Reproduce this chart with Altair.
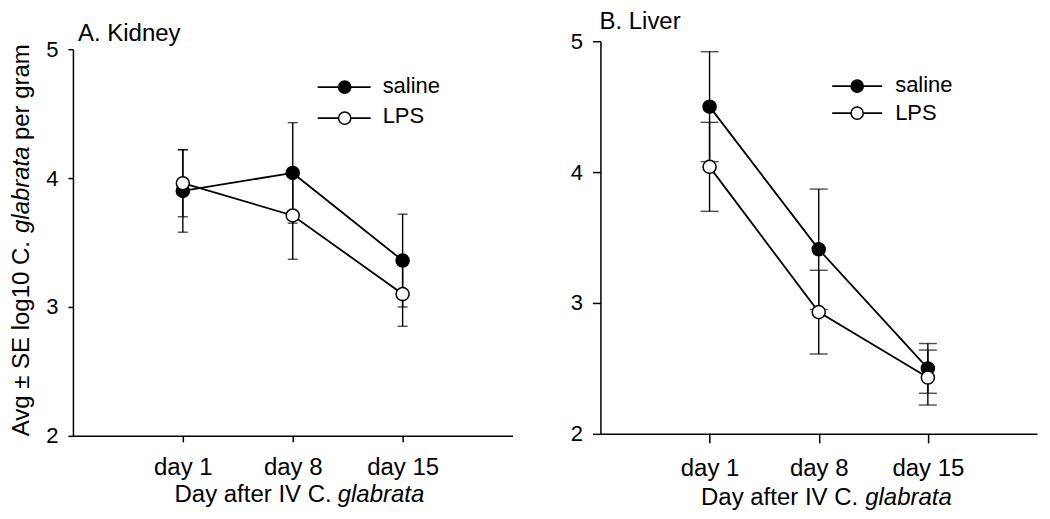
import altair as alt
import pandas as pd

# ---------------- data ----------------
days = ["day 1", "day 8", "day 15"]
groups = ["saline", "LPS"]

kidney_saline_mean = [3.90, 4.04, 3.36]
kidney_saline_se = [0.32, 0.39, 0.36]
kidney_lps_mean = [3.96, 3.71, 3.10]
kidney_lps_se = [0.26, 0.34, 0.25]

liver_saline_mean = [4.50, 3.41, 2.50]
liver_saline_se = [0.42, 0.46, 0.19]
liver_lps_mean = [4.04, 2.93, 2.43]
liver_lps_se = [0.34, 0.32, 0.21]

y_ticks = [2, 3, 4, 5]
panel_titles = ["A. Kidney", "B. Liver"]
x_title_parts = ["Day after IV C.", "glabrata"]
y_title_parts = ["Avg \u00b1 SE log10 C.", "glabrata", "per gram"]

FONT = "Liberation Sans"


def make_df(sm, ss, lm, ls):
    rows = []
    for g, m, s in ((groups[0], sm, ss), (groups[1], lm, ls)):
        for i, (d, mv, sv) in enumerate(zip(days, m, s)):
            rows.append({"day": d, "idx": i, "group": g, "mean": mv,
                         "lo": mv - sv, "hi": mv + sv})
    return pd.DataFrame(rows)


def text_layer(txt, x, y, size=24, align="left", angle=0, style="normal"):
    kw = dict(align=align, baseline="alphabetic", fontSize=size, font=FONT,
              color="black", fontStyle=style)
    if angle:
        kw["angle"] = angle
    return alt.Chart(pd.DataFrame({"t": [txt]})).mark_text(**kw).encode(
        x=alt.value(x), y=alt.value(y), text="t:N")


def panel(df, title, W, H, yrange, xtick, ytick, cap, tpos, leg, xt, ytitle=False):
    x = alt.X("day:O", sort=days,
              scale=alt.Scale(type="point", padding=1, domain=days),
              axis=alt.Axis(title=None, labelAngle=0, tickSize=xtick,
                            labelPadding=14, labelFontSize=24))

    def yenc(field):
        return alt.Y(field + ":Q",
                     scale=alt.Scale(domain=[2, 5], range=yrange, nice=False, zero=False),
                     axis=alt.Axis(title=None, values=y_ticks, format="d",
                                   tickSize=ytick, labelPadding=10, labelFontSize=22))

    base = alt.Chart(df)
    bars = base.mark_rule(color="black", strokeWidth=1.4).encode(
        x=x, y=yenc("lo"), y2="hi:Q")
    cap_lo = base.mark_tick(color="black", size=cap, thickness=1.4).encode(x=x, y=yenc("lo"))
    cap_hi = base.mark_tick(color="black", size=cap, thickness=1.4).encode(x=x, y=yenc("hi"))
    lines = base.mark_line(color="black", strokeWidth=1.8).encode(
        x=x, y=yenc("mean"), detail="group:N", order="idx:Q")
    points = base.mark_circle(size=170, stroke="black", strokeWidth=1.5, opacity=1).encode(
        x=x, y=yenc("mean"),
        fill=alt.Fill("group:N", scale=alt.Scale(domain=groups, range=["black", "white"]),
                      legend=None))

    layers = [bars, cap_lo, cap_hi, lines, points]

    # legend
    x0, x1, xm, xtx, ys, yts = leg
    for lab, fill, yl, yt in zip(groups, ["black", "white"], ys, yts):
        one = pd.DataFrame({"label": [lab]})
        layers.append(alt.Chart(one).mark_rule(color="black", strokeWidth=1.8).encode(
            x=alt.value(x0), x2=alt.value(x1), y=alt.value(yl)))
        layers.append(alt.Chart(one).mark_circle(size=150, stroke="black", strokeWidth=1.5,
                                                 fill=fill, opacity=1).encode(
            x=alt.value(xm), y=alt.value(yl)))
        layers.append(alt.Chart(one).mark_text(align="left", baseline="alphabetic",
                                               fontSize=22, font=FONT, color="black").encode(
            x=alt.value(xtx), y=alt.value(yt), text="label:N"))

    # panel title
    layers.append(text_layer(title, tpos[0], tpos[1]))
    # x-axis title (with italic species name)
    layers.append(text_layer(x_title_parts[0], xt[0], xt[2], align="right"))
    layers.append(text_layer(x_title_parts[1], xt[1], xt[2], align="left", style="italic"))
    # y-axis title
    if ytitle:
        xb = -44
        layers.append(text_layer(y_title_parts[0], xb, 200, align="right", angle=270))
        layers.append(text_layer(y_title_parts[1], xb, 192, align="left", angle=270,
                                 style="italic"))
        layers.append(text_layer(y_title_parts[2], xb, 99, align="left", angle=270))

    return alt.layer(*layers).properties(width=W, height=H)


kidney = make_df(kidney_saline_mean, kidney_saline_se, kidney_lps_mean, kidney_lps_se)
liver = make_df(liver_saline_mean, liver_saline_se, liver_lps_mean, liver_lps_se)

left = panel(kidney, panel_titles[0], 440, 395, [395, 8], 6, 5, 10, (5, 0),
             (245, 298, 272, 310, (46, 77), (52, 82)), (259, 265, 461), ytitle=True)
right = panel(liver, panel_titles[1], 437, 393, [393, 0], 9, 8, 18, (-1, -12),
              (232, 282, 257, 295, (45, 72), (51, 79)), (258, 265, 464))

chart = alt.hconcat(left, right, spacing=88, bounds="flush").properties(
    padding={"left": 1, "top": 2, "right": 5, "bottom": 0}
).configure_view(stroke=None).configure_axis(
    domainColor="black", tickColor="black", labelColor="black", labelFont=FONT,
    domainWidth=1.5, tickWidth=1.5, grid=False
)

chart.save("out.html", embed_options={"renderer": "svg", "actions": False})
